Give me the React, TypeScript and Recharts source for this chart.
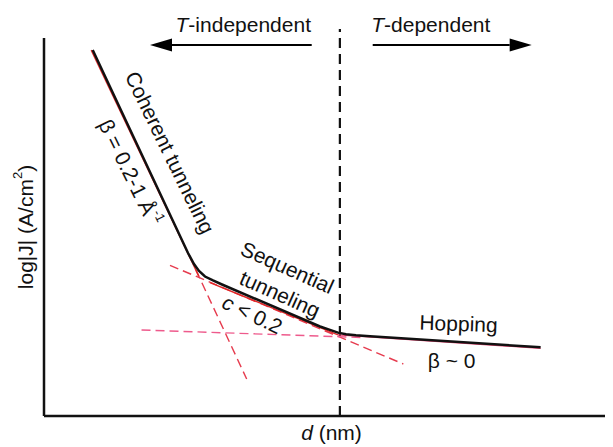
import React from 'react';
import { LineChart, Line, XAxis, YAxis, ReferenceLine, ReferenceDot } from 'recharts';

// log|J| against d, arbitrary units (plot box is 0-10 on both axes)
const curve = [
  { x: 0.856, y: 9.683 },
  { x: 2.531, y: 4.312 },
  { x: 2.636, y: 4.021 },
  { x: 2.724, y: 3.836 },
  { x: 2.83, y: 3.69 },
  { x: 2.97, y: 3.585 },
  { x: 3.128, y: 3.479 },
  { x: 4.851, y: 2.368 },
  { x: 5.026, y: 2.28 },
  { x: 5.167, y: 2.206 },
  { x: 5.308, y: 2.164 },
  { x: 5.483, y: 2.138 },
  { x: 5.729, y: 2.111 },
  { x: 8.728, y: 1.817 }
];

// straight fits lying under the curve
const coherentFit = [
  { x: 0.83, y: 9.68 },
  { x: 2.72, y: 3.7 }
];
const sequentialFit = [
  { x: 2.917, y: 3.529 },
  { x: 5.167, y: 2.148 }
];
const hoppingFit = [
  { x: 5.167, y: 2.146 },
  { x: 8.728, y: 1.79 }
];

// dashed extrapolations
const coherentExt = [
  { x: 2.671, y: 3.86 },
  { x: 3.562, y: 0.979 }
];
const sequentialExt = [
  { x: 2.214, y: 3.987 },
  { x: 6.315, y: 1.376 }
];
const hoppingExt = [
  { x: 1.714, y: 2.275 },
  { x: 5.641, y: 2.074 }
];

const boundary = 5.2;
const boundaryTop = 10.24;
const arrowLevel = 9.815;
const leftArrow = [4.705, 1.863];
const rightArrow = [5.777, 8.571];

const FONT = '"Liberation Sans", Arial, sans-serif';
const SIZE = 21;

const Arrow = (p: any) => {
  const { x1, y1, x2, y2 } = p;
  const dir = Math.sign(x2 - x1);
  const head = 22;
  return (
    <g>
      <line x1={x1} y1={y1} x2={x2 - dir * head} y2={y2} stroke="#000" strokeWidth={2.2} />
      <polygon
        points={`${x2},${y2} ${x2 - dir * head},${y2 - 6.5} ${x2 - dir * head},${y2 + 6.5}`}
        fill="#000"
      />
    </g>
  );
};

const note = (content: React.ReactNode, angle = 0, baseline: any = 'central') => (p: any) => (
  <g transform={`translate(${p.cx},${p.cy}) rotate(${angle})`}>
    <text
      x={0}
      y={0}
      textAnchor="middle"
      dominantBaseline={baseline}
      fontSize={SIZE}
      fontFamily={FONT}
      fill="#111"
    >
      {content}
    </text>
  </g>
);

const YTitle = (props: any) => {
  const { x, y, height } = props.viewBox;
  const cx = x + 17;
  const cy = y + height / 2;
  return (
    <g transform={`translate(${cx},${cy}) rotate(-90)`}>
      <text x={0} y={0} textAnchor="middle" dominantBaseline="central" fontSize={SIZE} fontFamily={FONT} fill="#111">
        log|J| (A/cm<tspan dy={-8} fontSize={13}>2</tspan>
        <tspan dy={8}>)</tspan>
      </text>
    </g>
  );
};

const XTitle = (props: any) => {
  const { x, y, width } = props.viewBox;
  const cx = x + width / 2 + 3;
  const cy = y + 24;
  return (
    <text x={cx} y={cy} textAnchor="middle" fontSize={SIZE} fontFamily={FONT} fill="#111">
      <tspan fontStyle="italic">d</tspan> (nm)
    </text>
  );
};

export default function App() {
  return (
    <div style={{ width: 605, height: 439, background: '#fff' }}>
      <LineChart width={605} height={439} margin={{ top: 30, right: 0, left: 0, bottom: 0 }}>
        <XAxis
          type="number"
          dataKey="x"
          domain={[0, 10]}
          allowDataOverflow
          height={31}
          tick={false}
          tickLine={false}
          axisLine={{ stroke: '#111', strokeWidth: 2.5 }}
          label={<XTitle />}
        />
        <YAxis
          type="number"
          dataKey="y"
          domain={[0, 10]}
          allowDataOverflow
          width={36}
          tick={false}
          tickLine={false}
          axisLine={{ stroke: '#111', strokeWidth: 2.5 }}
          label={<YTitle />}
        />

        <ReferenceLine
          segment={[{ x: boundary, y: 0 }, { x: boundary, y: boundaryTop }]}
          stroke="#111"
          strokeWidth={2.2}
          strokeDasharray="10 6"
          ifOverflow="visible"
        />
        <ReferenceLine
          segment={[{ x: leftArrow[0], y: arrowLevel }, { x: leftArrow[1], y: arrowLevel }]}
          shape={Arrow}
          ifOverflow="visible"
        />
        <ReferenceLine
          segment={[{ x: rightArrow[0], y: arrowLevel }, { x: rightArrow[1], y: arrowLevel }]}
          shape={Arrow}
          ifOverflow="visible"
        />

        <Line data={coherentExt} dataKey="y" stroke="#e63b4e" strokeWidth={1.4} strokeDasharray="9 5" dot={false} isAnimationActive={false} />
        <Line data={sequentialExt} dataKey="y" stroke="#e63b4e" strokeWidth={1.4} strokeDasharray="9 5" dot={false} isAnimationActive={false} />
        <Line data={hoppingExt} dataKey="y" stroke="#ee5a8c" strokeWidth={1.4} strokeDasharray="9 5" dot={false} isAnimationActive={false} />
        <Line data={coherentFit} dataKey="y" stroke="#e02626" strokeWidth={1.4} dot={false} isAnimationActive={false} />
        <Line data={sequentialFit} dataKey="y" stroke="#e02626" strokeWidth={1.4} dot={false} isAnimationActive={false} />
        <Line data={hoppingFit} dataKey="y" stroke="#e8406e" strokeWidth={1.4} dot={false} isAnimationActive={false} />
        <Line data={curve} dataKey="y" type="linear" stroke="#111" strokeWidth={2.5} dot={false} isAnimationActive={false} />

        <ReferenceDot x={3.502} y={10.167} r={0} ifOverflow="visible"
          shape={note(<><tspan fontStyle="italic">T</tspan>-independent</>, 0, 'auto')} />
        <ReferenceDot x={6.798} y={10.167} r={0} ifOverflow="visible"
          shape={note(<><tspan fontStyle="italic">T</tspan>-dependent</>, 0, 'auto')} />
        <ReferenceDot x={2.215} y={6.971} r={0} ifOverflow="visible" shape={note('Coherent tunneling', 64)} />
        <ReferenceDot x={1.511} y={6.442} r={0} ifOverflow="visible"
          shape={note(<>β = 0.2-1 Å<tspan dy={-8} fontSize={13}>-1</tspan></>, 64)} />
        <ReferenceDot x={4.279} y={3.929} r={0} ifOverflow="visible" shape={note('Sequential', 24)} />
        <ReferenceDot x={4.148} y={3.228} r={0} ifOverflow="visible" shape={note('tunneling', 24)} />
        <ReferenceDot x={3.664} y={2.698} r={0} ifOverflow="visible"
          shape={note(<><tspan fontStyle="italic">c</tspan> &lt; 0.2</>, 26)} />
        <ReferenceDot x={7.281} y={2.249} r={0} ifOverflow="visible" shape={note('Hopping', 2, 'auto')} />
        <ReferenceDot x={7.165} y={1.27} r={0} ifOverflow="visible" shape={note('β ~ 0', 0, 'auto')} />
      </LineChart>
    </div>
  );
}
